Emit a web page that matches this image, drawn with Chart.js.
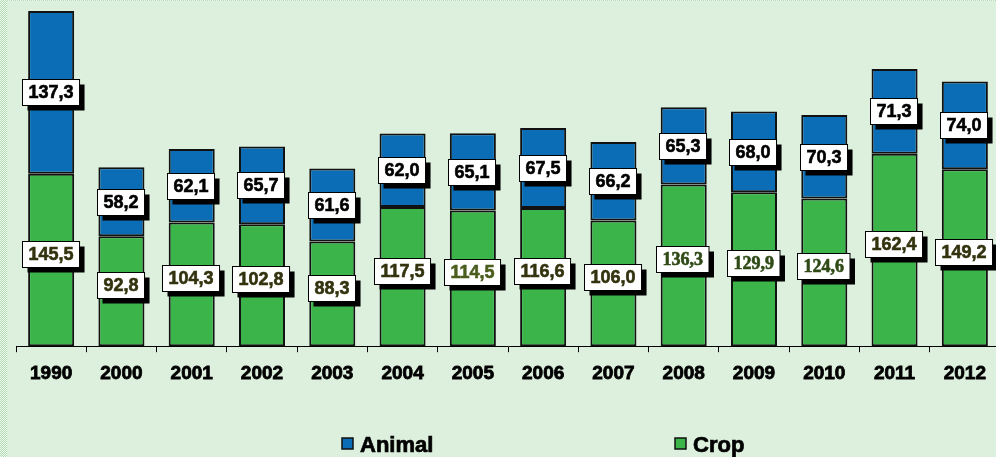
<!DOCTYPE html>
<html>
<head>
<meta charset="utf-8">
<script src="https://cdn.jsdelivr.net/npm/chart.js@4.4.1/dist/chart.umd.min.js"></script>
<style>
    html, body { margin: 0; padding: 0; overflow: hidden; background: #dcf0dd; }
    #wrap { position: absolute; left: 0; top: 0; width: 1002px; height: 457px; }
    .dots { position: absolute; background-color: #eef8ee;
        background-image: linear-gradient(45deg, #b3dbb4 25%, transparent 25%, transparent 75%, #b3dbb4 75%),
                          linear-gradient(45deg, #b3dbb4 25%, transparent 25%, transparent 75%, #b3dbb4 75%);
        background-size: 2px 2px; background-position: 0 0, 1px 1px; }
    .dots-left { left: 0; top: 0; width: 7px; height: 457px; }
    .dots-top { left: 0; top: 0; width: 996px; height: 1px; }
</style>
</head>
<body>
<div id="wrap"><canvas id="chart"></canvas></div>
<div class="dots dots-left"></div>
<div class="dots dots-top"></div>
<script>
var years = ['1990', '2000', '2001', '2002', '2003', '2004', '2005', '2006', '2007', '2008', '2009', '2010', '2011', '2012'];
var crop = [145.5, 92.8, 104.3, 102.8, 88.3, 117.5, 114.5, 116.6, 106.0, 136.3, 129.9, 124.6, 162.4, 149.2];
var animal = [137.3, 58.2, 62.1, 65.7, 61.6, 62.0, 65.1, 67.5, 66.2, 65.3, 68.0, 70.3, 71.3, 74.0];
var seriesNames = ['Animal', 'Crop'];

var BLUE = '#0b6db6';
var GREEN = '#3bb54a';
var SANS = '"Liberation Sans", Arial, sans-serif';
var SERIF = '"Liberation Serif", "Times New Roman", serif';

// crop labels in the original use a few different text styles
var cropLabelStyle = {
    '2005': { color: '#4b5e1e', family: SANS },
    '2008': { color: '#2f4a16', family: SERIF },
    '2009': { color: '#2f4a16', family: SERIF },
    '2010': { color: '#2f4a16', family: SERIF }
};

function fmt(v) {
    return v.toFixed(1).replace('.', ',');
}

var boxLabels = {
    id: 'boxLabels',
    afterDatasetsDraw: function(chart) {
        var ctx = chart.ctx;
        ctx.save();
        chart.data.datasets.forEach(function(ds, di) {
            var meta = chart.getDatasetMeta(di);
            meta.data.forEach(function(bar, i) {
                var text = fmt(ds.data[i]);
                var style = { color: '#000', family: SANS };
                var lift = 0;
                if (ds.label === 'Crop') {
                    style = cropLabelStyle[years[i]] || { color: '#33330f', family: SANS };
                    lift = 6;
                }
                ctx.font = 'bold 18px ' + style.family;
                var w = ctx.measureText(text).width + 12;
                var h = 26;
                var cx = bar.x - 1;
                var cy = (bar.y + bar.base) / 2 - lift;
                var x = Math.round(cx - w / 2) + 0.5;
                var y = Math.round(cy - h / 2) + 0.5;
                ctx.fillStyle = '#000';
                ctx.fillRect(x + 5, y + 5, w, h);
                ctx.fillStyle = '#fff';
                ctx.fillRect(x, y, w, h);
                ctx.strokeStyle = '#000';
                ctx.lineWidth = 1;
                ctx.strokeRect(x, y, w, h);
                ctx.fillStyle = style.color;
                ctx.strokeStyle = style.color;
                ctx.lineWidth = 0.6;
                ctx.textAlign = 'center';
                ctx.textBaseline = 'middle';
                ctx.fillText(text, x + w / 2, y + h / 2 + 1);
                ctx.strokeText(text, x + w / 2, y + h / 2 + 1);
            });
        });
        ctx.restore();
    }
};

var bottomLegend = {
    id: 'bottomLegend',
    afterDraw: function(chart) {
        var ctx = chart.ctx;
        var items = [
            { name: seriesNames[0], color: BLUE, x: 342 },
            { name: seriesNames[1], color: GREEN, x: 675 }
        ];
        ctx.save();
        items.forEach(function(it) {
            ctx.fillStyle = it.color;
            ctx.fillRect(it.x, 438, 11, 11);
            ctx.strokeStyle = '#111';
            ctx.lineWidth = 1.5;
            ctx.strokeRect(it.x, 438, 11, 11);
            ctx.fillStyle = '#000';
            ctx.strokeStyle = '#000';
            ctx.lineWidth = 0.7;
            ctx.font = 'bold 22px ' + SANS;
            ctx.textAlign = 'left';
            ctx.textBaseline = 'alphabetic';
            ctx.fillText(it.name, it.x + 18, 452);
            ctx.strokeText(it.name, it.x + 18, 452);
        });
        ctx.restore();
    }
};

new Chart(document.getElementById('chart'), {
    type: 'bar',
    data: {
        labels: years,
        datasets: [
            {
                label: 'Crop',
                data: crop,
                backgroundColor: GREEN,
                borderColor: '#111',
                borderWidth: 2,
                borderSkipped: false,
                barPercentage: 0.655,
                categoryPercentage: 1
            },
            {
                label: 'Animal',
                data: animal,
                backgroundColor: BLUE,
                borderColor: '#111',
                borderWidth: 2,
                borderSkipped: false,
                barPercentage: 0.655,
                categoryPercentage: 1
            }
        ]
    },
    options: {
        responsive: true,
        maintainAspectRatio: false,
        animation: false,
        layout: { padding: { left: 16, right: 2, top: 0, bottom: 62 } },
        plugins: {
            legend: { display: false },
            tooltip: { enabled: false }
        },
        scales: {
            x: {
                stacked: true,
                grid: { display: true, drawOnChartArea: false, drawTicks: true, tickLength: 6, color: '#000', lineWidth: 1 },
                border: { display: true, color: '#000', width: 1 },
                ticks: {
                    color: '#000',
                    padding: 10,
                    textStrokeColor: '#000',
                    textStrokeWidth: 0.8,
                    font: { family: SANS, size: 19, weight: 'bold' }
                }
            },
            y: {
                stacked: true,
                display: false,
                min: 0,
                max: 292
            }
        }
    },
    plugins: [boxLabels, bottomLegend]
});
</script>
</body>
</html>
